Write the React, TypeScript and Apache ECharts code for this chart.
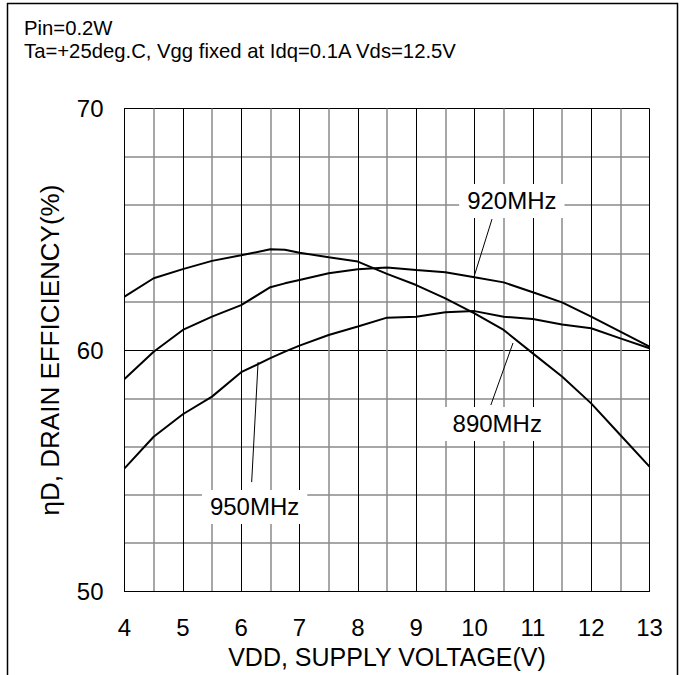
import React, { useEffect, useRef } from 'react';
import * as echarts from 'echarts';

const voltages = [4, 4.5, 5, 5.5, 6, 6.5, 6.75, 7, 7.5, 8, 8.5, 9, 9.5, 10, 10.5, 11, 11.5, 12, 12.5, 13];
const eff890 = [62.21, 62.97, 63.35, 63.69, 63.92, 64.17, 64.15, 64.03, 63.84, 63.66, 63.15, 62.69, 62.14, 61.52, 60.83, 59.86, 58.9, 57.79, 56.48, 55.17];
const eff920 = [58.8, 59.93, 60.83, 61.38, 61.86, 62.6, 62.76, 62.9, 63.18, 63.34, 63.42, 63.31, 63.22, 63.01, 62.8, 62.39, 61.97, 61.38, 60.76, 60.14];
const eff950 = [55.1, 56.41, 57.34, 58.07, 59.08, 59.66, 59.93, 60.18, 60.62, 60.97, 61.34, 61.38, 61.56, 61.61, 61.38, 61.28, 61.06, 60.9, 60.48, 60.07];
const seriesNames = ['890MHz', '920MHz', '950MHz'];

const labelTexts = ['920MHz', '890MHz', '950MHz'];
const labelPos = [[10.64, 66.17], [10.39, 56.94], [6.23, 53.5]];
const leaderStart = [[10.3, 65.42], [10.28, 57.72], [6.18, 54.53]];
const leaderEnd = [[9.99, 63.02], [10.66, 60.29], [6.29, 59.5]];

const titleLines = ['Pin=0.2W', 'Ta=+25deg.C, Vgg fixed at Idq=0.1A Vds=12.5V'];
const xName = 'VDD, SUPPLY VOLTAGE(V)';
const yName = 'ηD, DRAIN EFFICIENCY(%)';

const FONT = '"Liberation Sans", Arial, Helvetica, sans-serif';

export default function App() {
  const ref = useRef<HTMLDivElement>(null);
  useEffect(() => {
    const chart = echarts.init(ref.current!, null, { renderer: 'svg' });
    const series = [eff890, eff920, eff950].map((vals, i) => ({
      type: 'line',
      name: seriesNames[i],
      data: voltages.map((v, j) => [v, vals[j]]),
      showSymbol: false,
      symbol: 'none',
      silent: true,
      z: 3,
      lineStyle: { color: '#000', width: 2 },
    }));
    chart.setOption({
      animation: false,
      grid: { left: 124.5, top: 108.5, right: 35.5, bottom: 83.5 },
      xAxis: {
        type: 'value', min: 4, max: 13, interval: 1,
        axisLine: { show: true, lineStyle: { color: '#000', width: 1 } },
        axisTick: { show: false },
        axisLabel: { fontSize: 24, color: '#000', fontFamily: FONT, margin: 24 },
        splitLine: { show: true, lineStyle: { color: '#000', width: 1 } },
        minorTick: { show: false, splitNumber: 2 },
        minorSplitLine: { show: true, lineStyle: { color: '#8a8a8a', width: 1.5 } },
        name: xName, nameLocation: 'middle', nameGap: 50,
        nameTextStyle: { fontSize: 25, color: '#000', fontFamily: FONT },
      },
      yAxis: {
        type: 'value', min: 50, max: 70, interval: 10,
        axisLine: { show: true, lineStyle: { color: '#000', width: 1 } },
        axisTick: { show: false },
        axisLabel: { fontSize: 24, color: '#000', fontFamily: FONT, margin: 21 },
        splitLine: { show: true, lineStyle: { color: '#000', width: 1 } },
        minorTick: { show: false, splitNumber: 5 },
        minorSplitLine: { show: true, lineStyle: { color: '#8a8a8a', width: 1.5 } },
        name: yName, nameLocation: 'middle', nameGap: 62, nameRotate: 90,
        nameTextStyle: { fontSize: 26, color: '#000', fontFamily: FONT },
      },
      series,
    });

    const px = (p: number[]) => chart.convertToPixel({ gridIndex: 0 }, p) as number[];
    const graphic: any[] = [
      {
        type: 'rect', shape: { x: 7.5, y: 3.5, width: 670, height: 700 },
        style: { fill: 'none', stroke: '#000', lineWidth: 1.5 }, silent: true, z: 50,
      },
      ...titleLines.map((t, i) => ({
        type: 'text', x: 24, y: 27.5 + i * 23.5, silent: true, z: 50,
        style: { text: t, fontSize: 20.3, fontFamily: FONT, fill: '#000', align: 'left', verticalAlign: 'middle' },
      })),
    ];
    labelTexts.forEach((t, i) => {
      const a = px(leaderStart[i]);
      const b = px(leaderEnd[i]);
      graphic.push({
        type: 'line', silent: true, z: 60,
        shape: { x1: a[0], y1: a[1], x2: b[0], y2: b[1] },
        style: { stroke: '#000', lineWidth: 1 },
      });
      const c = px(labelPos[i]);
      graphic.push({
        type: 'text', x: c[0], y: c[1], silent: true, z: 70,
        style: {
          text: t, fontSize: 24, fontFamily: FONT, fill: '#000', align: 'center', verticalAlign: 'middle',
          backgroundColor: '#fff', padding: [5, 8],
        },
      });
    });
    chart.setOption({ graphic });
    return () => chart.dispose();
  }, []);
  return <div ref={ref} style={{ position: 'fixed', left: 0, top: 0, width: 685, height: 675, background: '#fff' }} />;
}
